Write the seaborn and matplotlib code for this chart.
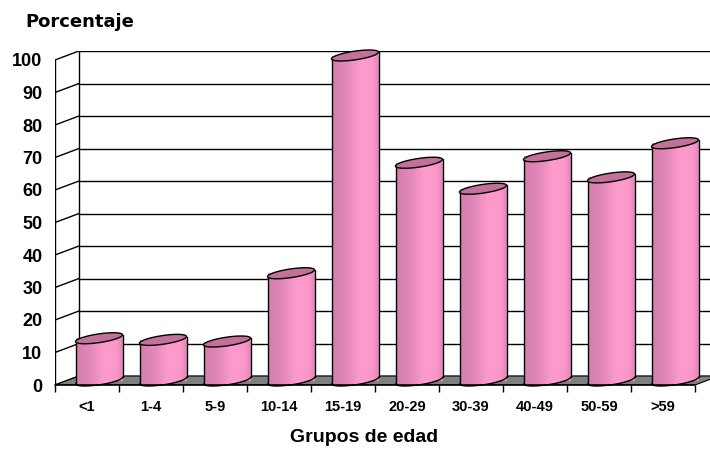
import numpy as np
import pandas as pd
import matplotlib
matplotlib.use("Agg")
import matplotlib.pyplot as plt
from matplotlib.patches import Polygon, PathPatch
from matplotlib.path import Path
from matplotlib.colors import LinearSegmentedColormap
import seaborn as sns

# data
grupos = ["<1", "1-4", "5-9", "10-14", "15-19", "20-29", "30-39", "40-49", "50-59", ">59"]
porcentaje = [13, 12.5, 12, 33, 100, 67, 59, 69, 62.5, 73]
y_ticks = list(range(0, 101, 10))

sns.set_style("white")
plt.rcParams["font.family"] = ["Liberation Sans", "DejaVu Sans"]
plt.rcParams["text.color"] = "black"
plt.rcParams["xtick.color"] = "black"
plt.rcParams["ytick.color"] = "black"

PINK = "#f08fc0"
TOP = "#c3709a"
FLOOR = "#808080"
pink_cmap = LinearSegmentedColormap.from_list(
    "cyl", [(0, "#d17ead"), (0.35, "#e58bbb"), (0.6, "#ff9acc"), (0.85, "#fc97c9"), (1, "#e08ab8")])

# figure geometry (pixels) -> pseudo 3D offsets in data units
W, H = 710, 450
PX, PY = 64.0, 3.25          # px per category / px per percent
DX, DY = 24 / PX, 9 / PY     # depth of the 3D box
X0, Y0 = 55, 385             # front origin in pixels
RX = 23.5 / PX               # half width of a cylinder
BX, BY = 14.3 / PX, 5.5 / PY  # half depth vector of a cylinder top
A = np.sqrt(RX ** 2 - BX ** 2)

xmin = -0.5
xmax = xmin + (W - X0) / PX
ymax = 100 + DY

fig = plt.figure(figsize=(W / 100, H / 100), dpi=100)
fig.patch.set_facecolor("white")
ax = fig.add_axes([X0 / W, (H - Y0) / H, (W - X0) / W, ymax * PY / H])

df = pd.DataFrame({"grupo": grupos, "pct": porcentaje})
sns.barplot(data=df, x="grupo", y="pct", order=grupos, width=2 * RX, color=PINK,
            saturation=1, errorbar=None, edgecolor="none", zorder=3, ax=ax)
bars = list(ax.patches)

# back wall, side wall and floor
n = len(grupos)
for v in y_ticks:
    ax.plot([xmin + DX, n - 0.5 + DX], [v + DY, v + DY], color="black", lw=1, zorder=0.5)
    ax.plot([xmin, xmin + DX], [v, v + DY], color="black", lw=1, zorder=0.5)
ax.plot([xmin + DX, xmin + DX], [DY, 100 + DY], color="black", lw=1, zorder=0.5)
ax.plot([xmin, xmin], [0, 100], color="black", lw=1, zorder=0.5)
ax.add_patch(Polygon([(xmin, 0), (n - 0.5, 0), (n - 0.5 + DX, DY), (xmin + DX, DY)],
                     closed=True, facecolor=FLOOR, edgecolor="black", lw=0.8, zorder=1))
ax.plot([xmin, n - 0.5], [0, 0], color="black", lw=1.2, zorder=6, clip_on=False)


def ellipse(cx, cy, th):
    return np.column_stack([cx + A * np.cos(th) + BX * np.sin(th), cy + BY * np.sin(th)])


th_r = np.arctan2(BX, A)
s = BY * np.sin(th_r)
grad = pink_cmap(np.linspace(0, 1, 256))[None, :, :]

# turn each seaborn bar into a cylinder sitting at mid depth
for p in bars:
    p.set_x(p.get_x() + DX / 2)
    p.set_y(DY / 2)
    cx = p.get_x() + p.get_width() / 2
    cb = DY / 2
    ct = p.get_height() + DY / 2

    bot = ellipse(cx, cb, np.linspace(th_r, th_r - np.pi, 80))
    topb = ellipse(cx, ct, np.linspace(th_r + np.pi, th_r, 80))
    body = np.vstack([bot, topb, bot[:1]])
    clip = PathPatch(Path(body), facecolor="none", edgecolor="none", transform=ax.transData)
    ax.add_patch(clip)
    im = ax.imshow(grad, extent=[cx - RX, cx + RX, -1, ct + DY], aspect="auto",
                   zorder=3.5, interpolation="bilinear")
    im.set_clip_path(clip)

    ax.plot(bot[:, 0], bot[:, 1], color="black", lw=1, zorder=4, clip_on=False)
    ax.plot([cx + RX, cx + RX], [cb + s, ct + s], color="black", lw=1, zorder=4)
    ax.plot([cx - RX, cx - RX], [cb - s, ct - s], color="black", lw=1, zorder=4)
    ax.add_patch(Polygon(ellipse(cx, ct, np.linspace(0, 2 * np.pi, 120)), closed=True,
                         facecolor=TOP, edgecolor="black", lw=1, zorder=4.5, clip_on=False))

ax.set_xlim(xmin, xmax)
ax.set_ylim(0, ymax)
for sp in ax.spines.values():
    sp.set_visible(False)

ax.set_xticks(range(n))
ax.set_xticklabels(grupos, fontsize=10.5, fontweight="bold")
ax.set_xticks(np.arange(-0.5, n, 1), minor=True)
ax.tick_params(axis="x", which="major", length=0, pad=11)
ax.tick_params(axis="x", which="minor", length=5, width=1, direction="out", bottom=True, color="black")
ax.set_yticks(y_ticks)
ax.set_yticklabels([str(v) for v in y_ticks], fontsize=13, fontweight="bold")
ax.tick_params(axis="y", length=0, pad=9)
ax.set_xlabel("")
ax.set_ylabel("")
ax.grid(False)

fig.text(364 / W, 1 - 438 / H, "Grupos de edad", ha="center", va="center",
         fontsize=14, fontweight="bold")
fig.text(25 / W, 1 - 22 / H, "Porcentaje", ha="left", va="center",
         fontsize=13, fontweight="bold", family=["DejaVu Sans"])

fig.savefig("out.png", dpi=100, facecolor="white")
